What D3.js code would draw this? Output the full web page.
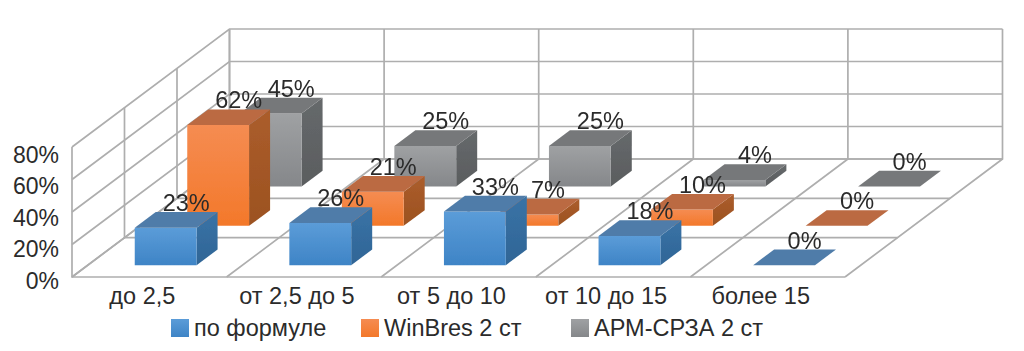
<!DOCTYPE html>
<html lang="ru">
<head>
  <meta charset="UTF-8">
  <title>Chart</title>
  <style>
    html, body { margin: 0; padding: 0; background: #fff; }
    text { font-family: "Liberation Sans", Arial, sans-serif; fill: #2b2b2b; }
  </style>
</head>
<body>
  <div id="chart"></div>
  <script src="https://d3js.org/d3.v7.min.js"></script>
  <script>
    const categories = ['до 2,5', 'от 2,5 до 5', 'от 5 до 10', 'от 10 до 15', 'более 15']
    const seriesNames = ['по формуле', 'WinBres 2 ст', 'АРМ-СРЗА 2 ст']
    const formulaValues = [23, 26, 33, 18, 0]
    const winbresValues = [62, 21, 7, 10, 0]
    const armValues = [45, 25, 25, 4, 0]
    const yTicks = [0, 20, 40, 60, 80]

    const seriesValues = [formulaValues, winbresValues, armValues]

    const width = 1024, height = 351

    // projection of the 3d box: front floor corner, and the shift to the back wall
    const floorLeft = 72, floorRight = 845, floorY = 277
    const shiftX = 157.5, shiftY = -118

    const x = d3.scaleBand().domain(categories).range([floorLeft, floorRight]).paddingInner(0).paddingOuter(0)
    const y = d3.scaleLinear().domain([0, 80]).range([0, 130])
    const depth = d3.scaleBand().domain(seriesNames).range([0, 1]).paddingInner(0.6).paddingOuter(0.3)

    const px = (cx, d) => cx + d * shiftX
    const py = (h, d) => floorY - h + d * shiftY

    const svg = d3.select('#chart').append('svg')
      .attr('width', width).attr('height', height)
      .style('display', 'block')

    const defs = svg.append('defs')
    defs.append('filter').attr('id', 'soft')
      .attr('x', '-2%').attr('y', '-2%').attr('width', '104%').attr('height', '104%')
      .append('feGaussianBlur').attr('stdDeviation', 0.45)

    const colours = [
      {front: ['#5b9cd8', '#3e84c6'], top: '#4f7ca9', side: ['#3a73a6', '#2f6596']},
      {front: ['#f58c52', '#f3782a'], top: '#bb6b43', side: ['#ab5d2c', '#9c5220']},
      {front: ['#9fa1a3', '#85878a'], top: '#76787a', side: ['#66696b', '#5a5d5f']}
    ]
    const gradient = (id, c) => {
      const g = defs.append('linearGradient').attr('id', id).attr('x1', 0).attr('y1', 0).attr('x2', 0).attr('y2', 1)
      g.append('stop').attr('offset', '0%').attr('stop-color', c[0])
      g.append('stop').attr('offset', '100%').attr('stop-color', c[1])
    }
    colours.forEach((c, i) => {
      gradient('front' + i, c.front)
      gradient('side' + i, c.side)
    })

    const plot = svg.append('g').attr('filter', 'url(#soft)')
    const gridColour = '#aeaeae'

    // walls and floor =========================================================
    const grid = plot.append('g').attr('fill', 'none').attr('stroke', gridColour).attr('stroke-width', 1.7)
    const line = pts => 'M' + pts.map(p => p.join(',')).join('L')

    // horizontal lines on the left and back walls
    yTicks.forEach(t => {
      grid.append('path').attr('d', line([
        [px(floorLeft, 0), py(y(t), 0)],
        [px(floorLeft, 1), py(y(t), 1)],
        [px(floorRight, 1), py(y(t), 1)]
      ]))
    })
    // back wall verticals, and floor lines running to the front
    const edges = categories.map(c => x(c)).concat(floorRight)
    edges.forEach(e => {
      grid.append('path').attr('d', line([
        [px(e, 0), py(0, 0)],
        [px(e, 1), py(0, 1)],
        [px(e, 1), py(y(80), 1)]
      ]))
    })
    // slices along the depth
    d3.range(0, 4).map(i => i / 3).forEach(d => {
      grid.append('path').attr('d', line([
        [px(floorLeft, d), py(y(80), d)],
        [px(floorLeft, d), py(0, d)],
        [px(floorRight, d), py(0, d)]
      ]))
    })

    // bars, back row first =====================================================
    const barW = x.bandwidth() * 0.4
    const barOffset = x.bandwidth() * 0.304
    const barD = depth.bandwidth()
    const bars = plot.append('g')
    const labels = plot.append('g')

    d3.range(seriesNames.length - 1, -1, -1).forEach(s => {
      const d0 = depth(seriesNames[s])
      const d1 = d0 + barD
      categories.forEach((c, i) => {
        const h = y(seriesValues[s][i])
        const l = x(c) + barOffset
        const r = l + barW
        const g = bars.append('g')
        if (h > 0) {
          g.append('path').attr('fill', `url(#side${s})`).attr('d', line([
            [px(r, d0), py(h, d0)], [px(r, d1), py(h, d1)], [px(r, d1), py(0, d1)], [px(r, d0), py(0, d0)]
          ]) + 'Z')
          g.append('path').attr('fill', `url(#front${s})`).attr('d', line([
            [px(l, d0), py(h, d0)], [px(r, d0), py(h, d0)], [px(r, d0), py(0, d0)], [px(l, d0), py(0, d0)]
          ]) + 'Z')
        }
        g.append('path').attr('fill', colours[s].top).attr('d', line([
          [px(l, d0), py(h, d0)], [px(r, d0), py(h, d0)], [px(r, d1), py(h, d1)], [px(l, d1), py(h, d1)]
        ]) + 'Z')

        labels.append('text')
          .attr('x', px((l + r) / 2, (d0 + d1) / 2) + 10)
          .attr('y', py(h, (d0 + d1) / 2) - 17)
          .attr('dy', '0.35em')
          .attr('text-anchor', 'middle')
          .attr('font-size', 23.5)
          .text(seriesValues[s][i] + '%')
      })
    })

    // axes =====================================================================
    const yLabel = d3.scaleLinear().domain([0, 80]).range([281, 155])
    const yAxis = svg.append('g').attr('transform', 'translate(62,0)')
      .call(d3.axisLeft(yLabel).tickValues(yTicks).tickSize(0).tickFormat(d => d + '%'))
    yAxis.select('.domain').remove()
    yAxis.selectAll('text').attr('font-size', 23).attr('font-family', null).attr('fill', null)

    const xAxis = svg.append('g').attr('transform', 'translate(-7,284)')
      .call(d3.axisBottom(x).tickSize(0))
    xAxis.select('.domain').remove()
    xAxis.selectAll('text').attr('font-size', 23.5).attr('font-family', null).attr('fill', null).attr('dy', '0.71em')

    // legend ===================================================================
    const legendX = [171, 361, 571]
    const legend = svg.selectAll('.legend').data(seriesNames).join('g')
      .attr('class', 'legend')
      .attr('transform', (d, i) => `translate(${legendX[i]},319)`)
    legend.append('rect').attr('width', 18).attr('height', 18)
      .attr('fill', (d, i) => `url(#front${i})`)
    legend.append('text').attr('x', 23).attr('y', 9).attr('dy', '0.35em')
      .attr('font-size', 23.5).text(d => d)
  </script>
</body>
</html>
